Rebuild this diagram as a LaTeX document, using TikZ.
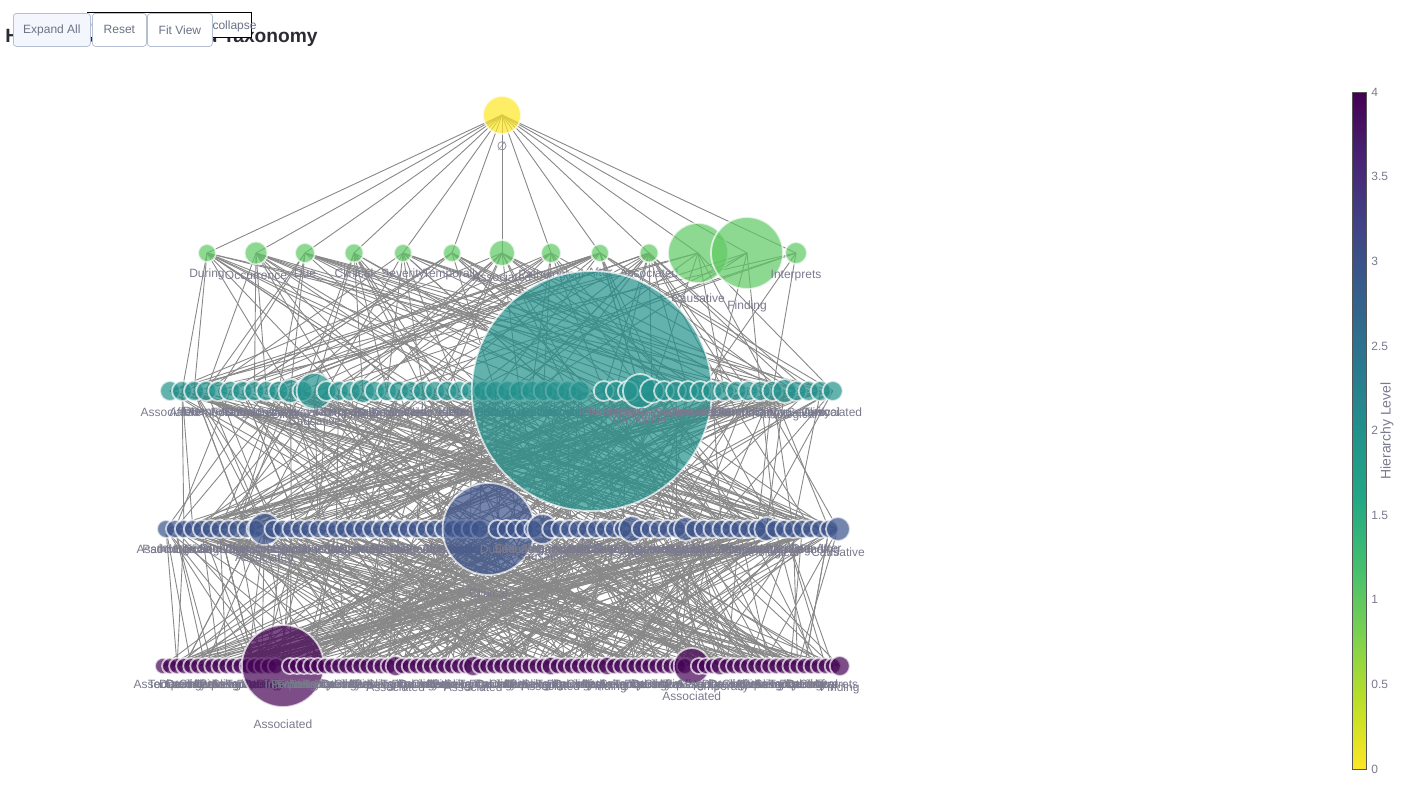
\documentclass[tikz,border=0pt]{standalone}
\usepackage{fontspec}
\setmainfont{Liberation Sans}
\newfontfamily\symbfont{DejaVu Sans}
\usetikzlibrary{positioning,backgrounds}

\definecolor{levelzero}{HTML}{FDE725}
\definecolor{levelone}{HTML}{5EC962}
\definecolor{leveltwo}{HTML}{21918C}
\definecolor{levelthree}{HTML}{3B528B}
\definecolor{levelfour}{HTML}{440154}
\definecolor{edgegrey}{HTML}{888888}
\definecolor{labelgrey}{HTML}{7A7A8E}
\definecolor{titlegrey}{HTML}{2B2B33}
\definecolor{btnborder}{HTML}{B4BFD4}
\definecolor{btnfill}{HTML}{F3F7FD}
\definecolor{btntext}{HTML}{6B7285}
\definecolor{barline}{HTML}{555555}
% viridis, bottom (0) to top (4)
\definecolor{virA}{HTML}{FDE725}
\definecolor{virB}{HTML}{BDDF26}
\definecolor{virC}{HTML}{7AD151}
\definecolor{virD}{HTML}{44BF70}
\definecolor{virE}{HTML}{22A884}
\definecolor{virF}{HTML}{21918C}
\definecolor{virG}{HTML}{2A788E}
\definecolor{virH}{HTML}{355F8D}
\definecolor{virI}{HTML}{414487}
\definecolor{virJ}{HTML}{482475}
\definecolor{virK}{HTML}{440154}
\pgfdeclareverticalshading{viridisbar}{100bp}{color(0bp)=(virA); color(25bp)=(virA);
  color(30bp)=(virB); color(35bp)=(virC); color(40bp)=(virD); color(45bp)=(virE);
  color(50bp)=(virF); color(55bp)=(virG); color(60bp)=(virH); color(65bp)=(virI);
  color(70bp)=(virJ); color(75bp)=(virK); color(100bp)=(virK)}

\newcommand{\termlist}{{"Associated","Causative","Finding","Due","Clinical","Pathological","Temporally","After","Severity","During","Interprets"}}

\begin{document}
\begin{tikzpicture}[x=0.5pt, y=-0.5pt,
    vnode/.style={circle, draw=white, line width=0.9pt, opacity=0.7, inner sep=0pt},
    lbl/.style={font=\fontsize{6}{7}\selectfont, text=labelgrey, inner sep=0pt, opacity=1},
    link/.style={draw=edgegrey, line width=0.45pt},
    btn/.style={draw=btnborder, fill=white, rounded corners=1.5pt, minimum height=16.5pt, inner sep=0pt, anchor=north west, font=\fontsize{6}{7}\selectfont, text=btntext}
]
    \useasboundingbox (0,0) rectangle (1418,800);

    % Header
    \node[anchor=base west, inner sep=0pt, font=\fontsize{9.6}{11}\selectfont\bfseries, text=titlegrey] (title) at (5,42) {Hierarchical Structured Taxonomy};
    \node[draw=black, fill=white, line width=0.5pt, minimum width=82pt, minimum height=12.5pt, inner sep=0pt, anchor=north west] (hint) at (87,12) {};
    \node[anchor=base east, inner sep=0pt, font=\fontsize{6}{7}\selectfont, text=btntext] (hinttext) at (257,29) {Click nodes to expand/collapse};
    \node[btn, fill=btnfill, minimum width=38.5pt] (expand) at (13,13) {Expand All};
    \node[btn, minimum width=27pt] (reset) at (92,13) {Reset};
    \node[btn, minimum width=32.5pt] (fit) at (147,13) {Fit View};

    % Nodes
    \node[vnode, fill=levelzero, minimum size=19pt, label={[lbl, label distance=3.5pt]below:{\symbfont ∅}}] (root) at (502,115) {};
    \foreach \x/\d/\term [count=\j] in {207/18/During, 256/23/Occurrence, 305/20/Due, 354/19/Clinical, 403/18/Severity, 452/18/Temporally, 502/26/Associated, 551/20/Pathological, 600/18/After, 649/19/Associated, 698/60/Causative, 747/72/Finding, 796/22/Interprets} {
        \pgfmathsetlengthmacro{\ld}{(0.05*\d+1.6)*1pt}
        \node[vnode, fill=levelone, minimum size=\d*0.5pt, label={[lbl, label distance=\ld]below:\term}] (a\j) at (\x,253) {};
    }
    \foreach \i in {1,...,56} {
        \pgfmathsetmacro{\d}{\i==36 ? 240 : (\i==13 ? 36 : (\i==40 ? 34 : ((\i==11 || \i==17 || \i==41 || \i==52) ? 24 : 20)))}
        \pgfmathtruncatemacro{\k}{(\i==13 || \i==40) ? 1 : mod(\i*7+4,11)}
        \pgfmathparse{\termlist[\k]}\let\term\pgfmathresult
        \pgfmathsetlengthmacro{\ld}{(0.05*\d+1.6)*1pt}
        \node[vnode, fill=leveltwo, minimum size=\d*0.5pt, label={[lbl, label distance=\ld]below:\term}] (b\i) at ({170+(\i-1)*12.05},391) {};
    }
    \foreach \i in {1,...,76} {
        \pgfmathsetmacro{\d}{\i==37 ? 92 : (\i==12 ? 32 : (\i==43 ? 30 : (\i==53 ? 26 : ((\i==59 || \i==68 || \i==76) ? 24 : 18))))}
        \pgfmathtruncatemacro{\k}{\i==12 ? 0 : mod(\i*5+6,11)}
        \pgfmathparse{\termlist[\k]}\let\term\pgfmathresult
        \pgfmathsetlengthmacro{\ld}{(0.05*\d+1.6)*1pt}
        \node[vnode, fill=levelthree, minimum size=\d*0.5pt, label={[lbl, label distance=\ld]below:\term}] (c\i) at ({166+(\i-1)*8.96},529) {};
    }
    \foreach \i in {1,...,97} {
        \pgfmathsetmacro{\d}{\i==18 ? 82 : (\i==76 ? 36 : ((\i==34 || \i==45 || \i==97) ? 20 : ((\i==56 || \i==64 || \i==80) ? 18 : 16)))}
        \pgfmathtruncatemacro{\k}{(\i==18 || \i==76) ? 0 : mod(\i*3+8,11)}
        \pgfmathparse{\termlist[\k]}\let\term\pgfmathresult
        \pgfmathsetlengthmacro{\ld}{(0.05*\d+1.6)*1pt}
        \node[vnode, fill=levelfour, minimum size=\d*0.5pt, label={[lbl, label distance=\ld]below:\term}] (d\i) at ({163+(\i-1)*7.05},666) {};
    }

    % Links
    \begin{scope}[on background layer]
        \pgfmathsetseed{41}
        \foreach \j in {1,...,13} \draw[link] (root.center) -- (a\j.center);
        \foreach \i in {1,...,56} {
            \pgfmathtruncatemacro{\np}{random(2,3)}
            \foreach \n in {1,...,\np} {
                \pgfmathtruncatemacro{\p}{random(1,13)}
                \draw[link] (a\p.center) -- (b\i.center);
            }
        }
        \foreach \i in {1,...,76} {
            \pgfmathtruncatemacro{\np}{random(3,5)}
            \foreach \n in {1,...,\np} {
                \pgfmathtruncatemacro{\p}{random(1,56)}
                \draw[link] (b\p.center) -- (c\i.center);
            }
        }
        \foreach \i in {1,...,97} {
            \pgfmathtruncatemacro{\np}{random(3,5)}
            \foreach \n in {1,...,\np} {
                \pgfmathtruncatemacro{\p}{random(1,76)}
                \draw[link] (c\p.center) -- (d\i.center);
            }
        }
    \end{scope}

    % Colour bar
    \node[shade, shading=viridisbar, draw=barline, line width=0.5pt, minimum width=7pt, minimum height=338.5pt, inner sep=0pt, anchor=north west] (cbar) at (1352,92) {};
    \foreach \v [count=\n] in {0,0.5,1,1.5,2,2.5,3,3.5,4}
        \node[lbl, anchor=west] (tick\n) at (1371,{769-\v*169.25}) {\v};
    \node[lbl, font=\fontsize{7}{8}\selectfont, rotate=90] (bartitle) at (1387,431) {Hierarchy Level};
\end{tikzpicture}
\end{document}
